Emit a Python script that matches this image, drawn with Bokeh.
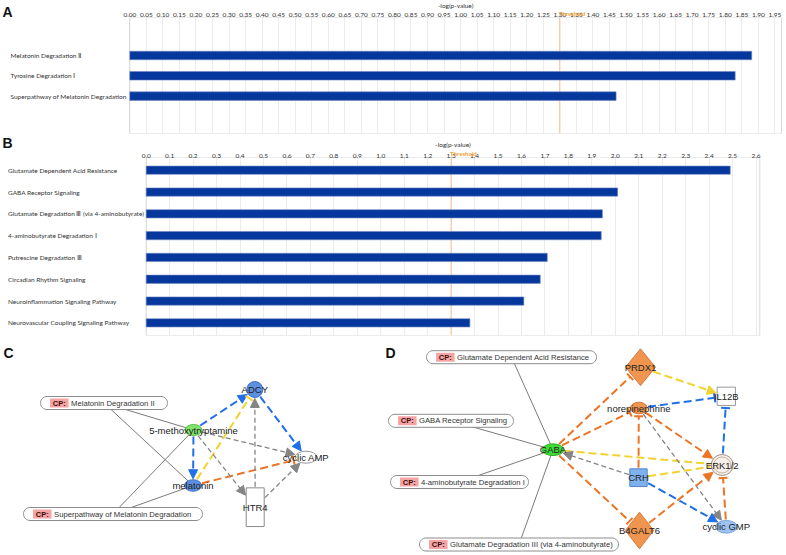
import numpy as np
from bokeh.plotting import figure
from bokeh.layouts import column
from bokeh.models import (ColumnDataSource, Span, FixedTicker, NumeralTickFormatter,
                          Range1d, Arrow, NormalHead, TeeHead, LabelSet)
from bokeh.core.properties import value
from bokeh.embed import file_html
from bokeh.resources import INLINE

# ---------------- data: panel A ----------------
a_pathways = ["Melatonin Degradation \u2161", "Tyrosine Degradation \u2160",
              "Superpathway of Melatonin Degradation"]
a_values = [1.88, 1.83, 1.47]
a_ticks = [0.00, 0.05, 0.10, 0.15, 0.20, 0.25, 0.30, 0.35, 0.40, 0.45,
           0.50, 0.55, 0.60, 0.65, 0.70, 0.75, 0.80, 0.85, 0.90, 0.95,
           1.00, 1.05, 1.10, 1.15, 1.20, 1.25, 1.30, 1.35, 1.40, 1.45,
           1.50, 1.55, 1.60, 1.65, 1.70, 1.75, 1.80, 1.85, 1.90, 1.95]

# ---------------- data: panel B ----------------
b_pathways = ["Glutamate Dependent Acid Resistance", "GABA Receptor Signaling",
              "Glutamate Degradation \u2162 (via 4-aminobutyrate)", "4-aminobutyrate Degradation \u2160",
              "Putrescine Degradation \u2162", "Circadian Rhythm Signaling",
              "Neuroinflammation Signaling Pathway", "Neurovascular Coupling Signaling Pathway"]
b_values = [2.49, 2.01, 1.945, 1.94, 1.71, 1.68, 1.61, 1.38]
b_ticks = [0.0, 0.1, 0.2, 0.3, 0.4, 0.5, 0.6, 0.7, 0.8, 0.9, 1.0, 1.1, 1.2, 1.3,
           1.4, 1.5, 1.6, 1.7, 1.8, 1.9, 2.0, 2.1, 2.2, 2.3, 2.4, 2.5, 2.6]

threshold = 1.3
axis_title = "-log(p-value)"

# ---------------- data: networks C and D ----------------
node_names = ["5-methoxytryptamine", "ADCY", "melatonin", "cyclic AMP", "HTR4",
              "GABA", "PRDX1", "norepinephrine", "IL12B", "ERK1/2", "CRH", "B4GALT6", "cyclic GMP"]
node_x = [193.0, 254.3, 192.5, 305.5, 254.7, 552.5, 640.0, 638.3, 725.8, 721.7, 638.0, 639.0, 725.8]
node_y = [429.5, 389.0, 485.0, 456.7, 506.7, 449.2, 366.7, 407.5, 395.8, 464.5, 477.2, 530.0, 526.3]

cp_names = ["Melatonin Degradation II", "Superpathway of Melatonin Degradation",
            "Glutamate Dependent Acid Resistance", "GABA Receptor Signaling",
            "4-aminobutyrate Degradation I", "Glutamate Degradation III (via 4-aminobutyrate)"]
cp_x = [103.5, 112.5, 511.0, 450.5, 459.0, 518.5]
cp_y = [402.5, 513.5, 356.7, 420.3, 481.5, 544.0]
cp_w = [127, 179, 170, 125, 138, 199]

cp_links = [(0, "5-methoxytryptamine"), (0, "melatonin"), (1, "5-methoxytryptamine"), (1, "melatonin"),
            (2, "GABA"), (3, "GABA"), (4, "GABA"), (5, "GABA")]

interactions = [
    ("5-methoxytryptamine", "ADCY", "blue", "arrow"),
    ("5-methoxytryptamine", "melatonin", "blue", "arrow"),
    ("ADCY", "cyclic AMP", "blue", "arrow"),
    ("melatonin", "ADCY", "yellow", "tee"),
    ("melatonin", "cyclic AMP", "orange", "tee"),
    ("5-methoxytryptamine", "cyclic AMP", "gray", "arrow"),
    ("5-methoxytryptamine", "HTR4", "gray", "arrow"),
    ("HTR4", "ADCY", "gray", "arrow"),
    ("HTR4", "cyclic AMP", "gray", "arrow"),
    ("GABA", "PRDX1", "orange", "tee"),
    ("GABA", "norepinephrine", "orange", "tee"),
    ("GABA", "B4GALT6", "orange", "tee"),
    ("GABA", "ERK1/2", "yellow", "none"),
    ("PRDX1", "IL12B", "yellow", "arrow"),
    ("norepinephrine", "IL12B", "blue", "tee"),
    ("norepinephrine", "ERK1/2", "orange", "arrow"),
    ("norepinephrine", "cyclic GMP", "gray", "arrow"),
    ("CRH", "norepinephrine", "orange", "tee"),
    ("CRH", "GABA", "gray", "arrow"),
    ("CRH", "ERK1/2", "yellow", "none"),
    ("CRH", "cyclic GMP", "blue", "arrow"),
    ("B4GALT6", "ERK1/2", "orange", "arrow"),
    ("ERK1/2", "IL12B", "blue", "tee"),
    ("cyclic GMP", "ERK1/2", "orange", "tee"),
]

# ---------------- styles ----------------
node_style = {
    "5-methoxytryptamine": ("ellipse", 17, 11, "#7fe36a", "#5cbf4a"),
    "ADCY": ("ellipse", 16, 16, "#5c8fe0", "#3d70c4"),
    "melatonin": ("ellipse", 17, 11.5, "#5c8fe0", "#3d70c4"),
    "cyclic AMP": ("ellipse", 22, 12, "#ffffff", "#9a9a9a"),
    "HTR4": ("rect", 18, 38.7, "#ffffff", "#8a8a8a"),
    "GABA": ("ellipse", 21.6, 11.7, "#3fdc35", "#2fae28"),
    "PRDX1": ("diamond", 30, 36.7, "#ef9550", "#d57a3a"),
    "norepinephrine": ("ellipse", 16.7, 11.7, "#ef9550", "#d57a3a"),
    "IL12B": ("rect", 18.3, 18.3, "#ffffff", "#9a9a9a"),
    "ERK1/2": ("ellipse", 22, 21, "#f7f0ea", "#a58f80"),
    "CRH": ("rect", 17.3, 17.7, "#7fb1ee", "#4f86cf"),
    "B4GALT6": ("diamond", 28.3, 36.7, "#ef9550", "#d57a3a"),
    "cyclic GMP": ("ellipse", 21.7, 12.7, "#9dc2f1", "#7aa6dd"),
}
edge_color = {"blue": "#1f6fe8", "orange": "#ec7425", "yellow": "#f2d230", "gray": "#858585"}
edge_width = {"blue": 2.0, "orange": 2.0, "yellow": 2.0, "gray": 1.3}
edge_dash = {"blue": "8 4", "orange": "8 4", "yellow": "8 4", "gray": "5 3"}

W = 786
HA, HB, HCD = 136, 204, 215
BAR_FONT = "Lato"
NET_FONT = "Liberation Sans"
BAR_FILL = "#06379d"
BAR_EDGE = "#6f88c4"


def bar_panel(height, names, values, ticks, fmt, box_right, zero_px, right_px,
              ylo, yhi, bar_h, top, bottom, label_px, letter, tick_px, title_px, letter_px,
              standoff):
    # frame spans the full width; x=0 sits at zero_px, box_right at right_px
    ppu_x = (right_px - zero_px) / box_right
    x_start = -zero_px / ppu_x
    x_end = (W - zero_px) / ppu_x
    frame_h = height - top - bottom
    ppu_y = frame_h / (yhi - ylo)

    def X(px):
        return (px - zero_px) / ppu_x

    def Y(px):
        return ylo + (px - top) / ppu_y

    p = figure(width=W, height=height, x_range=Range1d(x_start, x_end),
               y_range=Range1d(Y(height - bottom), Y(top)),
               x_axis_location="above", y_axis_location=None,
               output_backend="svg", toolbar_location=None,
               min_border_left=0, min_border_right=0,
               min_border_top=top, min_border_bottom=bottom)
    ax = p.xaxis[0]
    ax.ticker = FixedTicker(ticks=ticks)
    ax.formatter = NumeralTickFormatter(format=fmt)
    ax.major_label_text_font = BAR_FONT
    ax.major_label_text_font_size = "6.5px"
    ax.major_label_text_color = "#333333"
    ax.major_label_standoff = standoff
    ax.axis_line_color = None
    ax.major_tick_line_color = None
    ax.minor_tick_line_color = None
    ax.major_tick_out = 0
    ax.major_tick_in = 0
    p.xgrid.ticker = FixedTicker(ticks=ticks)
    p.xgrid.grid_line_color = "#ececec"
    p.ygrid.grid_line_color = None
    p.outline_line_color = None

    # box around the data area
    p.quad(left=[0], right=[box_right], top=[ylo], bottom=[yhi], fill_color=None,
           line_color="#d9d9d9", line_width=1)
    p.add_layout(Span(location=threshold, dimension="height", line_color="#f6c08c",
                      line_width=1, level="underlay"))

    src = ColumnDataSource(dict(y=list(range(len(names))), v=values, name=names))
    p.hbar(y="y", left=0, right="v", height=bar_h, source=src,
           fill_color=BAR_FILL, line_color=BAR_EDGE, line_width=0.6)
    p.text(x=X(label_px), y="y", text="name", source=src, text_align="left",
           text_baseline="middle", text_font=value(BAR_FONT), text_font_size="6.5px",
           text_color="#333333")

    # texts in the top margin (overlay level so they are not clipped to the frame)
    r1 = p.text(x=[threshold], y=[Y(tick_px)], text=["Threshold"], x_offset=-1,
                text_align="left", text_baseline="middle", text_font=value(BAR_FONT),
                text_font_size="6px", text_font_style="bold", text_color="#f2a43a")
    r2 = p.text(x=[box_right / 2], y=[Y(title_px)], text=[axis_title], text_align="center",
                text_baseline="middle", text_font=value(BAR_FONT), text_font_size="6.5px",
                text_color="#333333")
    r3 = p.text(x=[X(2)], y=[Y(letter_px)], text=[letter], text_align="left",
                text_baseline="middle", text_font=value("Liberation Sans"),
                text_font_size="14px", text_font_style="bold", text_color="#111111")
    for r in (r1, r2, r3):
        r.level = "overlay"
    return p


pA = bar_panel(HA, a_pathways, a_values, a_ticks, "0.00", 1.970, 129.3, 781.0,
               -1.87, 3.84, 0.42, top=17, bottom=3, label_px=10, letter="A",
               tick_px=12.8, title_px=4.8, letter_px=11.5, standoff=1)
pB = bar_panel(HB, b_pathways, b_values, b_ticks, "0.0", 2.616, 145.7, 759.3,
               -0.583, 7.58, 0.38, top=21, bottom=5, label_px=7.5, letter="B",
               tick_px=16.6, title_px=8.2, letter_px=6.5, standoff=0)

# ---------------- networks ----------------
pCD = figure(width=W, height=HCD, x_range=Range1d(0, 786), y_range=Range1d(555, 340),
             x_axis_location=None, y_axis_location=None,
             output_backend="svg", toolbar_location=None, min_border=0)
pCD.outline_line_color = None
pCD.xgrid.visible = False
pCD.ygrid.visible = False

pos = {n: (x, y) for n, x, y in zip(node_names, node_x, node_y)}

# solid links from canonical pathways (drawn first, hidden under shapes)
seg = dict(x0=[], y0=[], x1=[], y1=[])
for ci, n in cp_links:
    seg["x0"].append(cp_x[ci]); seg["y0"].append(cp_y[ci])
    seg["x1"].append(pos[n][0]); seg["y1"].append(pos[n][1])
pCD.segment(x0="x0", y0="y0", x1="x1", y1="y1", source=ColumnDataSource(seg),
            line_color="#7a7a7a", line_width=1)


def stadium_xy(cx, cy, w, h, n=18):
    r = h / 2
    t = np.linspace(-np.pi / 2, np.pi / 2, n)
    xr, xl = cx + w / 2 - r, cx - w / 2 + r
    xs = np.concatenate([xr + r * np.cos(t), xl - r * np.cos(t)])
    ys = np.concatenate([cy + r * np.sin(t), cy - r * np.sin(t)])
    return list(xs), list(ys)


CP_H = 13
ov_xs, ov_ys, box_x, box_y, txt_x = [], [], [], [], []
for cx, cy, w in zip(cp_x, cp_y, cp_w):
    xs, ys = stadium_xy(cx, cy, w, CP_H)
    ov_xs.append(xs); ov_ys.append(ys)
    lft = cx - w / 2
    box_x.append(lft + 18.8); box_y.append(cy); txt_x.append(lft + 30.5)
pCD.patches(ov_xs, ov_ys, fill_color="#ffffff", line_color="#8c8c8c", line_width=1)
pCD.rect(x=box_x, y=box_y, width=18.5, height=9, fill_color="#f6a3a3", line_color=None)
pCD.text(x=box_x, y=box_y, text=["CP:"] * len(cp_names), text_align="center",
         text_baseline="middle", text_font=value(NET_FONT), text_font_size="7.5px",
         text_font_style="bold", text_color="#3a0c0c")
pCD.text(x=txt_x, y=cp_y, text=cp_names, text_align="left", text_baseline="middle",
         text_font=value(NET_FONT), text_font_size="7.7px", text_color="#333333")


def boundary(name, ux, uy):
    shape, w, h = node_style[name][:3]
    hw, hh = w / 2, h / 2
    if shape == "ellipse":
        return 1 / np.sqrt((ux / hw) ** 2 + (uy / hh) ** 2)
    if shape == "rect":
        tx = hw / abs(ux) if abs(ux) > 1e-9 else 1e9
        ty = hh / abs(uy) if abs(uy) > 1e-9 else 1e9
        return min(tx, ty)
    return 1 / (abs(ux) / hw + abs(uy) / hh)


# interaction edges
for s, d, kind, head in interactions:
    (sx, sy), (dx, dy) = pos[s], pos[d]
    L = np.hypot(dx - sx, dy - sy)
    ux, uy = (dx - sx) / L, (dy - sy) / L
    t0 = boundary(s, ux, uy) + 1
    t1 = boundary(d, ux, uy) + (2.5 if head == "tee" else 1)
    col = edge_color[kind]
    if head == "arrow":
        end = NormalHead(size=9, fill_color=col, line_color=col, line_width=1)
    elif head == "tee":
        end = TeeHead(size=9, line_color=col, line_width=2)
    else:
        end = None
    pCD.add_layout(Arrow(x_start=sx + ux * t0, y_start=sy + uy * t0,
                         x_end=dx - ux * t1, y_end=dy - uy * t1,
                         start=None, end=end, line_color=col,
                         line_width=edge_width[kind], line_dash=edge_dash[kind]))

# nodes
groups = {"ellipse": dict(x=[], y=[], w=[], h=[], f=[], l=[]),
          "rect": dict(x=[], y=[], w=[], h=[], f=[], l=[])}
dia = dict(xs=[], ys=[], f=[], l=[])
for n in node_names:
    shape, w, h, fc, lc = node_style[n]
    x, y = pos[n]
    if shape == "diamond":
        dia["xs"].append([x, x + w / 2, x, x - w / 2])
        dia["ys"].append([y - h / 2, y, y + h / 2, y])
        dia["f"].append(fc); dia["l"].append(lc)
    else:
        g = groups[shape]
        g["x"].append(x); g["y"].append(y); g["w"].append(w); g["h"].append(h)
        g["f"].append(fc); g["l"].append(lc)
pCD.ellipse(x="x", y="y", width="w", height="h", fill_color="f", line_color="l",
            line_width=1, source=ColumnDataSource(groups["ellipse"]))
pCD.rect(x="x", y="y", width="w", height="h", fill_color="f", line_color="l",
         line_width=1, source=ColumnDataSource(groups["rect"]))
pCD.patches(xs="xs", ys="ys", fill_color="f", line_color="l", line_width=1,
            source=ColumnDataSource(dia))
ex, ey = pos["ERK1/2"]
pCD.ellipse(x=[ex], y=[ey], width=[17], height=[16], fill_color=None,
            line_color="#b8a496", line_width=0.8)

lab = LabelSet(x="x", y="y", text="t", source=ColumnDataSource(dict(x=node_x, y=node_y, t=node_names)),
               text_align="center", text_baseline="middle", text_font=value(NET_FONT),
               text_font_size="9.5px", text_color="#222222", level="overlay")
pCD.add_layout(lab)

pCD.text(x=[3, 385], y=[352, 352], text=["C", "D"], text_align="left", text_baseline="middle",
         text_font=value(NET_FONT), text_font_size="14px", text_font_style="bold",
         text_color="#111111")

layout = column(pA, pB, pCD, spacing=0)
open("out.html", "w").write(file_html(layout, INLINE))
